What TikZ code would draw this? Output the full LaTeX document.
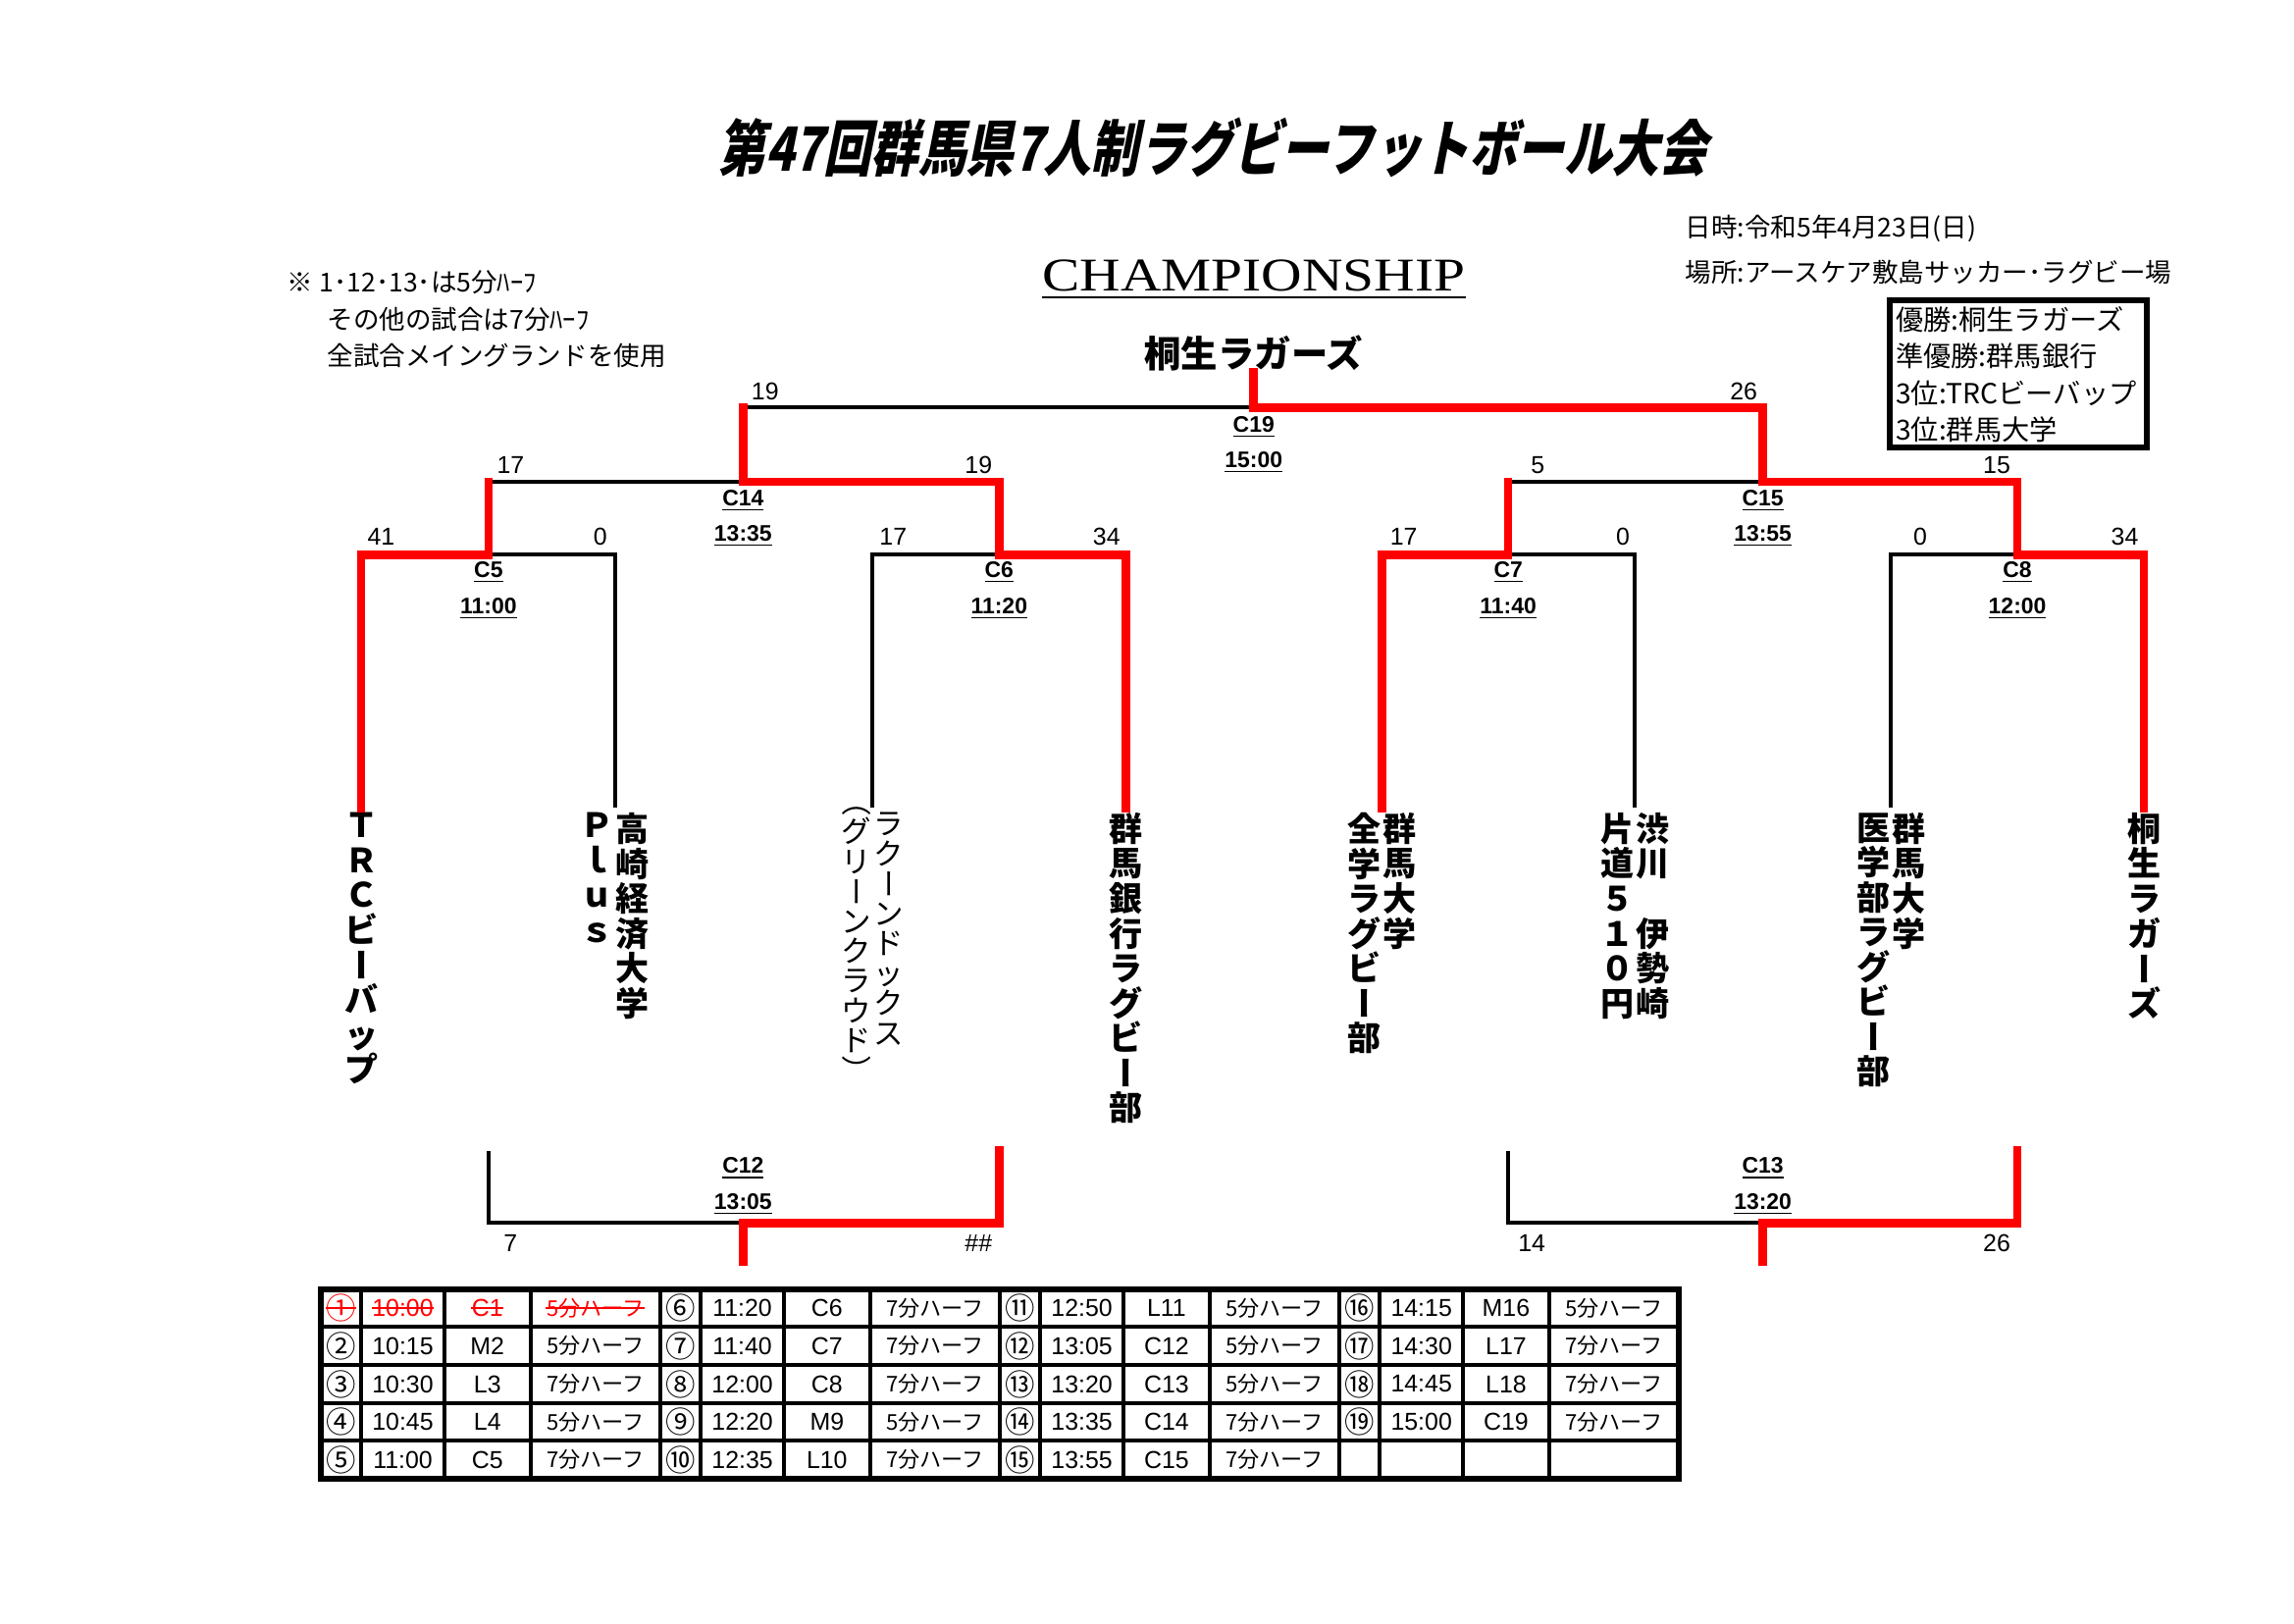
\documentclass[tikz,border=0pt]{standalone}
\usepackage{fontspec}
\setmainfont{Liberation Sans}
\newfontfamily\jp{Noto Sans CJK JP}
\newfontfamily\jptitle[FakeStretch=0.78,FakeSlant=0.2]{Noto Sans CJK JP}
\newfontfamily\champfont[FakeStretch=1.2]{Liberation Serif}
\usetikzlibrary{positioning,calc}

\newcommand{\vlong}{\smash{\rotatebox[origin=c]{-90}{\vphantom{国}ー}}}
\newcommand{\vopen}{\smash{\rotatebox[origin=c]{-90}{\vphantom{国}（}}}
\newcommand{\vclose}{\smash{\rotatebox[origin=c]{-90}{\vphantom{国}）}}}

\tikzset{
  win/.style={draw=red, line width=3.1pt, line cap=rect, line join=miter},
  lose/.style={draw=black, line width=1.4pt, line join=miter},
  score/.style={inner sep=0, font=\fontsize{9}{10}\selectfont},
  game/.style={inner sep=0, font=\bfseries\fontsize{8.3}{9}\selectfont},
  team/.style={anchor=north, inner xsep=0, inner ysep=1.6pt, align=center,
    font=\jp\bfseries\fontsize{12.3}{12.85}\selectfont},
  teamsmall/.style={team, font=\jp\fontsize{11}{11}\selectfont},
  note/.style={anchor=west, inner sep=0, font=\jp\fontsize{9.6}{10}\selectfont},
  res/.style={anchor=west, inner sep=0, font=\jp\fontsize{10.2}{11}\selectfont},
  resbox/.style={draw, line width=2.2pt},
  cell/.style={inner sep=0, font=\fontsize{9}{10}\selectfont},
  circ/.style={inner sep=0, font=\jp\fontsize{11}{12}\selectfont},
  half/.style={inner sep=0, font=\jp\fontsize{8}{9}\selectfont},
  tablerule/.style={line width=1.45pt},
  tableframe/.style={line width=2.2pt},
  strike/.style={draw=red, line width=0.7pt},
}

\begin{document}
\begin{tikzpicture}[x=0.1905mm,y=-0.1905mm]
\useasboundingbox (0,0) rectangle (1559,1103);

% heading
\node[font=\jptitle\bfseries\fontsize{22.5}{24}\selectfont] (title) at (824,100) {第47回群馬県7人制ラグビーフットボール大会};
\node[anchor=base, inner sep=0, font=\champfont\fontsize{17.3}{18}\selectfont] (champ) at (852,198) {CHAMPIONSHIP};
\draw[line width=1pt] ([yshift=-2.2pt]champ.base west) -- ([yshift=-2.2pt]champ.base east);
\node[note] (note1) at (195,192) {※ 1･12･13･は5分ﾊｰﾌ};
\node[note] (note2) at (222,217) {その他の試合は7分ﾊｰﾌ};
\node[note] (note3) at (222,242) {全試合メイングランドを使用};
\node[note] (date)  at (1145,155) {日時:令和5年4月23日(日)};
\node[note] (place) at (1145,185) {場所:アースケア敷島サッカー･ラグビー場};

% results
\draw[resbox] (1284,204) rectangle (1459,304);
\node[res] (r1) at (1288,217) {優勝:桐生ラガーズ};
\node[res] (r2) at (1288,242) {準優勝:群馬銀行};
\node[res] (r3) at (1288,267) {3位:TRCビーバップ};
\node[res] (r4) at (1288,292) {3位:群馬大学};
\node[font=\jp\bfseries\fontsize{13.5}{14}\selectfont] (winner) at (852,240) {桐生ラガーズ};

% teams
\coordinate (t1) at (245.5,549); \coordinate (t2) at (418,549);
\coordinate (t3) at (593,549);   \coordinate (t4) at (765,549);
\coordinate (t5) at (939,549);   \coordinate (t6) at (1111,549);
\coordinate (t7) at (1285,549);  \coordinate (t8) at (1457,549);
\node[team] (trc) at (245.5,549) {Ｔ\\Ｒ\\Ｃ\\ビ\\\vlong\\バ\\ッ\\プ};
\node[team] (tka) at (430,549) {高\\崎\\経\\済\\大\\学};
\node[team] (tkb) at (406,549) {Ｐ\\ｌ\\ｕ\\ｓ};
\node[teamsmall] (rca) at (604,549) {ラ\\ク\\\vlong\\ン\\ド\\ッ\\ク\\ス};
\node[teamsmall] (rcb) at (582,549) {\vopen\\グ\\リ\\\vlong\\ン\\ク\\ラ\\ウ\\ド\\\vclose};
\node[team] (gb)  at (765,549) {群\\馬\\銀\\行\\ラ\\グ\\ビ\\\vlong\\部};
\node[team] (gua) at (951,549) {群\\馬\\大\\学};
\node[team] (gub) at (927,549) {全\\学\\ラ\\グ\\ビ\\\vlong\\部};
\node[team] (sba) at (1123,549) {渋\\川\\　\\伊\\勢\\崎};
\node[team] (sbb) at (1099,549) {片\\道\\５\\１\\０\\円};
\node[team] (gma) at (1297,549) {群\\馬\\大\\学};
\node[team] (gmb) at (1273,549) {医\\学\\部\\ラ\\グ\\ビ\\\vlong\\部};
\node[team] (kr)  at (1457,549) {桐\\生\\ラ\\ガ\\\vlong\\ズ};

% bracket
\coordinate (c5) at (332,377);  \coordinate (c6) at (679,377);
\coordinate (c7) at (1025,377); \coordinate (c8) at (1371,377);
\coordinate (c14) at (505,327.5); \coordinate (c15) at (1198,327.5);
\coordinate (c19) at (852,277); \coordinate (top) at (852,253);
\draw[lose] (c5) -- (t2 |- c5) -- (t2);
\draw[lose] (t3) -- (t3 |- c6) -- (c6);
\draw[lose] (c7) -- (t6 |- c7) -- (t6);
\draw[lose] (t7) -- (t7 |- c8) -- (c8);
\draw[lose] (c5 |- c14) -- (c14);
\draw[lose] (c7 |- c15) -- (c15);
\draw[lose] (c14 |- c19) -- (c19);
\draw[win] (t1) -- (t1 |- c5) -- (c5) -- (c5 |- c14);
\draw[win] (t4) -- (t4 |- c6) -- (c6) -- (c6 |- c14) -- (c14) -- (c14 |- c19);
\draw[win] (t5) -- (t5 |- c7) -- (c7) -- (c7 |- c15);
\draw[win] (t8) -- (t8 |- c8) -- (c8) -- (c8 |- c15) -- (c15) -- (c15 |- c19) -- (c19) -- (top);

% consolation
\coordinate (c12) at (505,831);  \coordinate (c12s) at (505,857);
\coordinate (c12l) at (332,782); \coordinate (c12r) at (679,782);
\coordinate (c13) at (1198,831); \coordinate (c13s) at (1198,857);
\coordinate (c13l) at (1025,782); \coordinate (c13r) at (1371,782);
\draw[lose] (c12l) -- (c12l |- c12) -- (c12);
\draw[win] (c12r) -- (c12r |- c12) -- (c12) -- (c12s);
\draw[lose] (c13l) -- (c13l |- c13) -- (c13);
\draw[win] (c13r) -- (c13r |- c13) -- (c13) -- (c13s);

% game labels
\foreach \g/\tm/\x/\y in {5/11:00/332/389, 6/11:20/679/389, 7/11:40/1025/389, 8/12:00/1371/389,
  14/13:35/505/340, 15/13:55/1198/340, 19/15:00/852/290, 12/13:05/505/794, 13/13:20/1198/794}{
  \node[game] (g\g) at (\x,\y) {\underline{C\g}};
  \node[game] (h\g) at (\x,\y+24.5) {\underline{\tm}};
}

% scores
\foreach \s/\x/\y [count=\i] in {19/520/266, 26/1185/266, 17/347/316, 19/665/316, 5/1045/316, 15/1357/316,
  41/259/365, 0/408/365, 17/607/365, 34/752/365, 17/954/365, 0/1103/365, 0/1305/365, 34/1444/365,
  7/347/845, 14/1041/845, 26/1357/845}
  \node[score] (s\i) at (\x,\y) {\s};
\node[score] (s12r) at (665,845) {\#\#};

% timetable
\draw[tableframe] (218,876) rectangle (1141,1005);
\foreach \rr in {1,...,4} \draw[tablerule] (218,876+25.8*\rr) -- (1141,876+25.8*\rr);
\foreach \kk in {0,...,3} \foreach \o in {27.5,84,142.5} \draw[tablerule] (218+230.75*\kk+\o,876) -- ++(0,129);
\foreach \kk in {1,2,3} \draw[tablerule] (218+230.75*\kk,876) -- ++(0,129);

\coordinate (row0) at (218,888.9);
\node[circ, red] (n0) at ($(row0)+(13.75,0)$) {①};
\node[cell, red] (t0) at ($(row0)+(55.75,0)$) {10:00};
\node[cell, red] (c0) at ($(row0)+(113.25,0)$) {C1};
\node[half, red] (h0) at ($(row0)+(186.6,0)$) {5分ハーフ};
\foreach \s in {n0,t0,c0,h0} \draw[strike] (\s.west) -- (\s.east);

\foreach \n/\t/\c/\h [count=\i] in {②/10:15/M2/5, ③/10:30/L3/7, ④/10:45/L4/5, ⑤/11:00/C5/7,
  ⑥/11:20/C6/7, ⑦/11:40/C7/7, ⑧/12:00/C8/7, ⑨/12:20/M9/5, ⑩/12:35/L10/7,
  ⑪/12:50/L11/5, ⑫/13:05/C12/5, ⑬/13:20/C13/5, ⑭/13:35/C14/7, ⑮/13:55/C15/7,
  ⑯/14:15/M16/5, ⑰/14:30/L17/7, ⑱/14:45/L18/7, ⑲/15:00/C19/7}{
  \pgfmathtruncatemacro\kk{\i/5}
  \pgfmathtruncatemacro\rr{mod(\i,5)}
  \coordinate (row\i) at (218+230.75*\kk,888.9+25.8*\rr);
  \node[circ] (n\i) at ($(row\i)+(13.75,0)$) {\n};
  \node[cell] (t\i) at ($(row\i)+(55.75,0)$) {\t};
  \node[cell] (c\i) at ($(row\i)+(113.25,0)$) {\c};
  \node[half] (h\i) at ($(row\i)+(186.6,0)$) {\h{}分ハーフ};
}
\end{tikzpicture}
\end{document}
